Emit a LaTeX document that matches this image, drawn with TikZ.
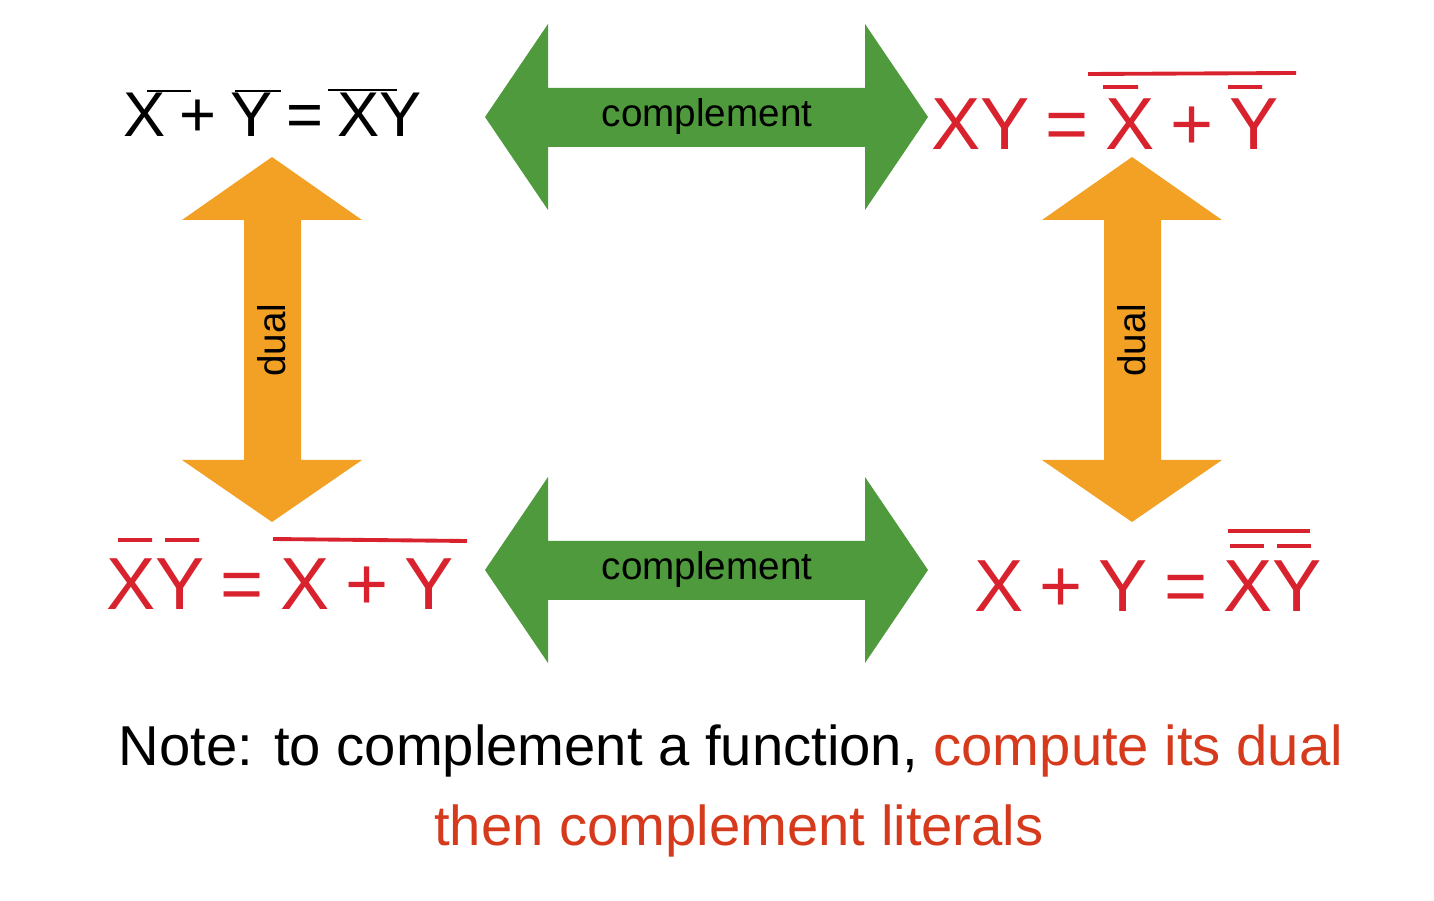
\documentclass[tikz,border=0pt]{standalone}
\usepackage{fontspec}
\setmainfont{Liberation Sans}
\begin{document}
\begin{tikzpicture}[x=0.02cm,y=-0.02cm,
  grn/.style={fill=arrgreen,draw=none},
  org/.style={fill=arrorange,draw=none},
  eq/.style={inner sep=0,anchor=base,font=\fontsize{42}{48}\selectfont},
  ovl/.style={line width=2.2pt},
  lbl/.style={inner sep=0,font=\fontsize{22}{26}\selectfont}]
\definecolor{arrgreen}{HTML}{4E9A3C}
\definecolor{arrorange}{HTML}{F2A124}
\definecolor{eqred}{HTML}{D8232E}
\definecolor{notered}{HTML}{D63A1C}
\newcommand{\eqsp}{\hspace{0.22em}}
\useasboundingbox (0,0) rectangle (1434,901);
% green arrows
\foreach \c/\n in {117/ct,570/cb}{
 \fill[grn] (485,\c) -- (548,\c-93) -- (548,\c-29) -- (865,\c-29) -- (865,\c-93) -- (928,\c)
   -- (865,\c+93) -- (865,\c+30) -- (548,\c+30) -- (548,\c+93) -- cycle;
 \node[lbl] (\n) at (707,\c) {complement};
}
% orange arrows
\foreach \c/\n in {272/dl,1132/dr}{
 \fill[org] (\c,157) -- (\c+90,220) -- (\c+29,220) -- (\c+29,460) -- (\c+90,460) -- (\c,522)
   -- (\c-90,460) -- (\c-28,460) -- (\c-28,220) -- (\c-90,220) -- cycle;
 \node[lbl,rotate=90] (\n) at (\c,340) {dual};
}
% top-left
\node[eq,font=\fontsize{36}{42}\selectfont] (tl) at (273,137) {X\eqsp+\eqsp Y\eqsp=\eqsp XY};
\draw[ovl,line width=1.6pt] (147,91) -- (191,91) (235,91) -- (281,91) (328,90) -- (397,90);
% top-right
\node[eq,text=eqred] (tr) at (1105,150) {XY\eqsp=\eqsp X\eqsp+\eqsp Y};
\draw[ovl,eqred] (1088,74) -- (1296,73) (1103,87) -- (1138,87) (1228,87) -- (1262,87);
% bottom-left
\node[eq,text=eqred] (bl) at (280,610) {XY\eqsp=\eqsp X\eqsp+\eqsp Y};
\draw[ovl,eqred] (118,540) -- (152,540) (165,540) -- (199,540) (273,539) -- (467,541);
% bottom-right
\node[eq,text=eqred] (br) at (1148,612) {X\eqsp+\eqsp Y\eqsp=\eqsp XY};
\draw[ovl,eqred] (1228,531) -- (1310,531) (1230,546) -- (1264,546) (1277,546) -- (1311,546);
% note
\node[inner sep=0,anchor=base,font=\fontsize{32}{38}\selectfont] (n1) at (731,766)
  {Note: to complement a function, \textcolor{notered}{compute its dual}};
\node[inner sep=0,anchor=base,font=\fontsize{32}{38}\selectfont,text=notered] (n2) at (739,846)
  {then complement literals};
\end{tikzpicture}
\end{document}
